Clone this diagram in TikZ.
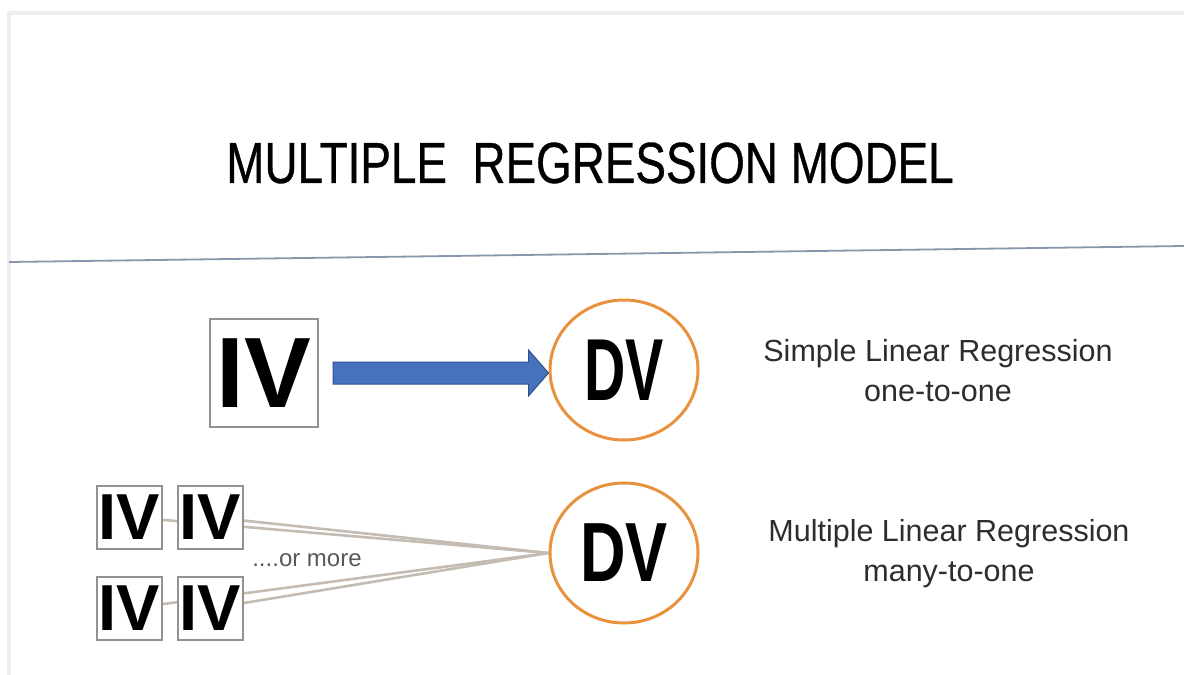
\documentclass[tikz,border=0pt]{standalone}
\usepackage{fontspec}
\setmainfont{Liberation Sans}
\newfontfamily\titlefont[FakeStretch=0.79,FakeBold=0.6]{Liberation Sans}
\newfontfamily\dvfontA[FakeStretch=0.65]{Liberation Sans Bold}
\newfontfamily\dvfontB[FakeStretch=0.75]{Liberation Sans Bold}
\newfontfamily\ivfont{Liberation Sans Bold}
\usetikzlibrary{shapes.geometric,calc}
\pgfdeclarelayer{background}
\pgfsetlayers{background,main}
\definecolor{dvorange}{RGB}{232,146,62}
\definecolor{arrowblue}{RGB}{70,114,190}
\definecolor{arrowdark}{RGB}{45,80,140}
\definecolor{boxgray}{RGB}{150,145,140}
\definecolor{conncol}{RGB}{196,188,178}
\definecolor{sepcol}{RGB}{135,150,170}
\definecolor{textgray}{RGB}{45,45,45}
\definecolor{framegray}{RGB}{238,238,238}
\tikzset{
  ivbig/.style={draw=boxgray, line width=2pt, fill=white, minimum width=108pt, minimum height=108pt, inner sep=0pt, font=\ivfont\fontsize{100}{100}\selectfont},
  ivsmall/.style={draw=boxgray, line width=2pt, fill=white, minimum width=65pt, minimum height=63pt, inner sep=0pt, font=\ivfont\fontsize{65}{65}\selectfont},
  dvnode/.style={ellipse, draw=dvorange, line width=3pt, fill=white, inner sep=0pt},
  conn/.style={draw=conncol, line width=2.6pt},
  desc/.style={align=center, text=textgray, font=\fontsize{30.5}{40}\selectfont},
}
\begin{document}
\begin{tikzpicture}[x=1pt,y=-1pt]
\useasboundingbox (0,0) rectangle (1184,675);
% frame edges
\draw[framegray, line width=4pt] (9,675) -- (9,13) -- (1184,13);
% title
\node[font=\titlefont\fontsize{58}{60}\selectfont] (title) at (590,163) {MULTIPLE~ REGRESSION MODEL};
% separator
\coordinate (sepL) at (9,262);
\coordinate (sepR) at (1184,246);
\draw[sepcol, line width=1.8pt] (sepL) -- (sepR);
% simple regression
\node[ivbig] (iv) at (264,373) {IV};
\node[dvnode, minimum width=148pt, minimum height=140pt, font=\dvfontA\fontsize{88}{88}\selectfont] (dv1) at (624,370) {DV};
\coordinate (tip) at (dv1.west |- iv.east);
\filldraw[fill=arrowblue, draw=arrowdark, line width=1pt]
  ($(iv.east)+(14,-11)$) -- ($(tip)+(-20,-11)$) -- ($(tip)+(-20,-23)$) -- (tip)
  -- ($(tip)+(-20,23)$) -- ($(tip)+(-20,11)$) -- ($(iv.east)+(14,11)$) -- cycle;
\node[desc] (t1) at (938,371) {Simple Linear Regression\\one-to-one};
% multiple regression
\node[dvnode, minimum width=148pt, minimum height=140pt, font=\dvfontB\fontsize{84}{84}\selectfont] (dv2) at (624,553) {DV};
\node[ivsmall] (ivA) at (129.5,517) {IV};
\node[ivsmall] (ivB) at (210.5,517) {IV};
\node[ivsmall] (ivC) at (129.5,608.5) {IV};
\node[ivsmall] (ivD) at (210.5,608.5) {IV};
\begin{pgfonlayer}{background}
\draw[conn] (ivA.center) -- (dv2.west);
\draw[conn] (ivB.center) -- (dv2.west);
\draw[conn] (ivC.center) -- (dv2.west);
\draw[conn] (ivD.center) -- (dv2.west);
\end{pgfonlayer}
\node[text=black!65, font=\fontsize{24}{24}\selectfont] (more) at (307,560) {....or more};
\node[desc] (t2) at (949,554) {Multiple Linear Regression\\many-to-one};
\end{tikzpicture}
\end{document}
